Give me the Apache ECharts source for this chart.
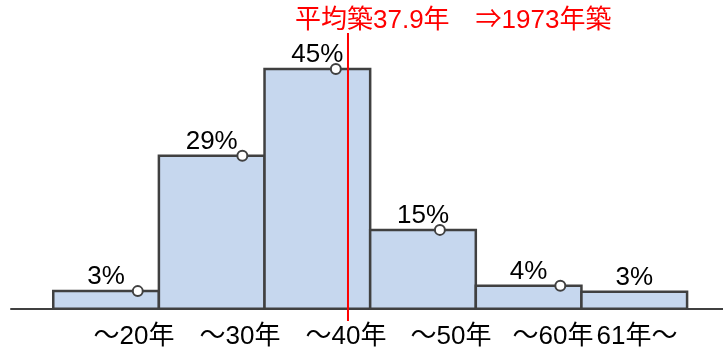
<!DOCTYPE html>
<html>
<head>
<meta charset="utf-8">
<script src="https://cdn.jsdelivr.net/npm/echarts@6/dist/echarts.min.js"></script>
<style>html,body{margin:0;padding:0;background:#fff;}#c{width:723px;height:356px;}</style>
</head>
<body>
<div id="c"></div>
<script>
// ---- data ----
var binStarts = [10, 20, 30, 40, 50, 60];
var binEnds   = [20, 30, 40, 50, 60, 70];
var shares    = [3.3, 28.7, 45, 14.8, 4.3, 3.2];
var shareLabels = ['3%', '29%', '45%', '15%', '4%', '3%'];
var binMeanAges = [18.0, 27.9, 36.75, 46.6, 58.0];
var binMeanShares = [3.3, 28.7, 45, 14.8, 4.3];
var tickPositions = [17.64, 27.68, 37.71, 47.65, 57.31, 65.26];
var tickLabels = ['～20年', '～30年', '～40年', '～50年', '～60年', '61年～'];
var meanAge = 37.9;
var titleText = '平均築37.9年　⇒1973年築';

var FONT = "'Liberation Sans','Noto Sans CJK JP',sans-serif";
var chart = echarts.init(document.getElementById('c'), null, {renderer: 'canvas'});

var barData = binStarts.map(function (s, i) { return [s, binEnds[i], shares[i]]; });
var ptData = binMeanAges.map(function (a, i) { return [a, binMeanShares[i]]; });

chart.setOption({
  animation: false,
  title: {
    text: titleText, left: 290, top: 3,
    textStyle: {color: '#ff0000', fontSize: 26, fontWeight: 'normal', fontFamily: FONT}
  },
  grid: {left: 11, right: 0, top: 42.4, bottom: 47.3},
  xAxis: {
    type: 'value', min: 6, max: 73.4,
    splitLine: {show: false},
    axisTick: {show: false},
    axisLine: {show: true, lineStyle: {color: '#404040', width: 2}},
    axisLabel: {
      customValues: tickPositions,
      formatter: function (v) {
        var i = tickPositions.indexOf(v);
        return i >= 0 ? tickLabels[i] : '';
      },
      color: '#000', fontSize: 26, fontFamily: FONT, margin: 15
    }
  },
  yAxis: {type: 'value', min: 0, max: 50, show: false},
  series: [
    {
      type: 'custom',
      data: barData,
      clip: false,
      z: 2,
      renderItem: function (params, api) {
        var p0 = api.coord([api.value(0), api.value(2)]);
        var p1 = api.coord([api.value(1), 0]);
        return {
          type: 'rect',
          shape: {x: p0[0], y: p0[1], width: p1[0] - p0[0], height: p1[1] - p0[1]},
          style: {fill: '#c6d7ee', stroke: '#404040', lineWidth: 2.5},
          textContent: {
            style: {text: shareLabels[params.dataIndex], fontSize: 26, fontFamily: FONT, fill: '#000'}
          },
          textConfig: {position: 'top', distance: 0}
        };
      }
    },
    {
      type: 'custom',
      data: [[meanAge]],
      clip: false,
      z: 3,
      renderItem: function (params, api) {
        var top = api.coord([api.value(0), 51.75]);
        var bot = api.coord([api.value(0), -2.3]);
        return {
          type: 'line',
          shape: {x1: top[0], y1: top[1], x2: bot[0], y2: bot[1]},
          style: {stroke: '#ff0000', lineWidth: 2}
        };
      }
    },
    {
      type: 'scatter',
      data: ptData,
      z: 4,
      symbol: 'circle',
      symbolSize: 10,
      itemStyle: {color: '#ffffff', borderColor: '#404040', borderWidth: 2, opacity: 1}
    }
  ]
});
</script>
</body>
</html>
